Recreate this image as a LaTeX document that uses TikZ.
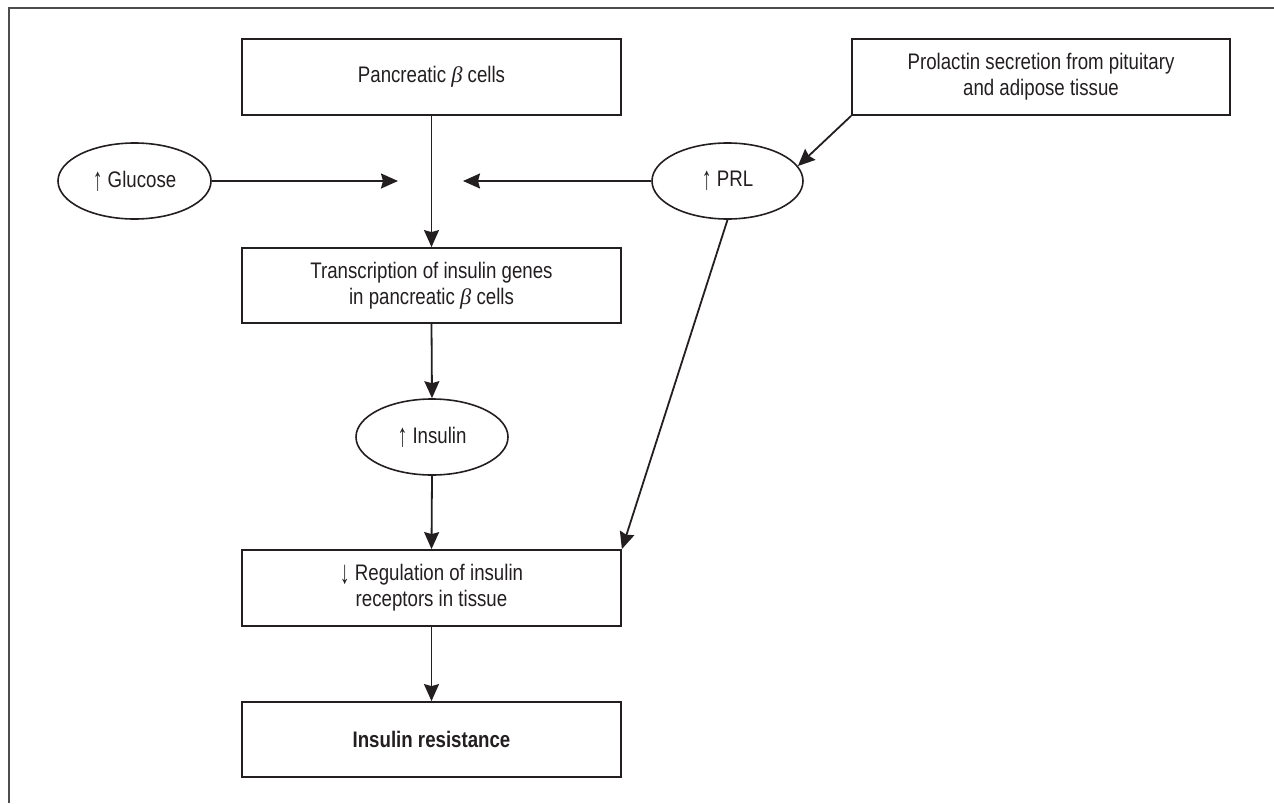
\documentclass[tikz,border=0pt]{standalone}
\usepackage{fontspec}
\setmainfont{Liberation Sans}[FakeStretch=0.83]
\newfontfamily\grk{Liberation Serif}
\newcommand{\gbeta}{{\grk\itshape β}}
\newcommand{\uparr}{\raisebox{-0.12em}{\scalebox{1.05}[1.45]{↑}}}
\newcommand{\dnarr}{\raisebox{-0.12em}{\scalebox{1.05}[1.45]{↓}}}
\usetikzlibrary{arrows.meta,shapes.geometric}
\definecolor{ink}{HTML}{231F20}
\tikzset{
  box/.style={draw=ink, line width=1.8pt, rectangle, minimum width=379pt, minimum height=76pt, inner sep=0pt, align=center, text=ink},
  oval/.style={draw=ink, line width=1.6pt, ellipse, minimum width=152pt, minimum height=76pt, inner sep=0pt, align=center, text=ink},
  conn/.style={draw=ink, line width=1.8pt, -{Stealth[length=17pt, width=15pt, inset=2pt]}},
  every node/.append style={font=\fontsize{22.5}{26}\selectfont}
}
\begin{document}
\begin{tikzpicture}[x=1pt, y=-1pt]
\useasboundingbox (0,0) rectangle (1274,803);
\draw[line width=1.6pt, draw=ink!80] (9,803) -- (9,8) -- (1274,8);
\node[box] (pb) at (431.5,77) {Pancreatic \gbeta\ cells};
\node[box, minimum width=378pt] (pbox) at (1041,77) {Prolactin secretion from pituitary\\and adipose tissue};
\node[oval, minimum width=153pt] (glu) at (134.5,181) {\uparr\ Glucose};
\node[oval, minimum width=151pt] (prl) at (727.5,181) {\uparr\ PRL};
\node[box, minimum height=75pt] (tr) at (431.5,285.5) {Transcription of insulin genes\\in pancreatic \gbeta\ cells};
\node[oval] (ins) at (432,437) {\uparr\ Insulin};
\node[box] (reg) at (431.5,588) {\dnarr\ Regulation of insulin\\receptors in tissue};
\node[box, minimum height=75pt] (res) at (431.5,739.5) {\bfseries Insulin resistance};
\coordinate (gtip) at (398,181);
\coordinate (ptip) at (463,181);
\draw[conn] (pb.south) -- (tr.north);
\draw[conn] (glu.east) -- (gtip);
\draw[conn] (prl.west) -- (ptip);
\draw[conn] (pbox.south west) -- (prl.12);
\draw[conn] (prl.south) -- (reg.north east);
\draw[conn] (tr.south) -- (ins.north);
\draw[conn] (ins.south) -- (reg.north);
\draw[conn] (reg.south) -- (res.north);
\end{tikzpicture}
\end{document}
